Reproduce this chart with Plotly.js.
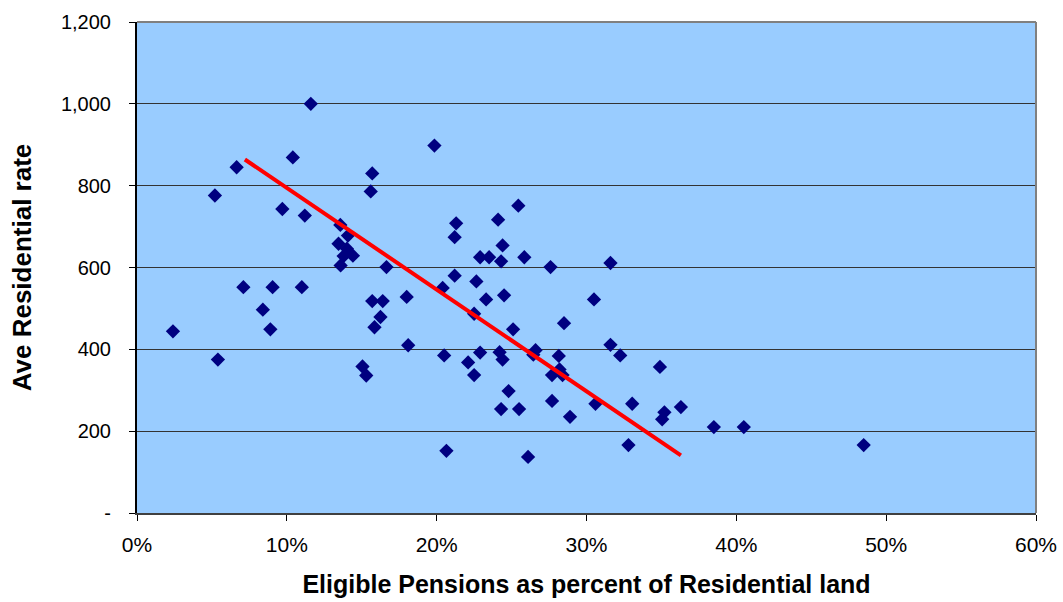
<!DOCTYPE html>
<html>
<head>
<meta charset="utf-8">
<script src="https://cdn.plot.ly/plotly-3.0.1.min.js"></script>
<style>html,body{margin:0;padding:0;background:#fff;}#chart{width:1063px;height:602px;}</style>
</head>
<body>
<div id="chart"></div>
<script>
// Eligible pensions as percent of residential land (%)
const pensionPct = [2.4, 5.2, 5.4, 6.65, 7.1, 8.4, 8.9, 9.05, 9.7, 10.4, 11.0, 11.2, 11.6,
  13.57, 14.08, 13.45, 14.01, 14.41, 13.79, 13.59,
  15.05, 15.3, 15.7, 15.6, 15.7, 16.4, 16.25, 15.85, 16.65, 18.0, 18.1, 19.85,
  20.4, 20.5, 20.65, 21.2, 21.3, 21.2, 22.1, 22.5, 22.5, 22.65, 22.9, 22.9, 23.3, 23.5,
  24.1, 24.2, 24.3, 24.3, 24.4, 24.4, 24.5, 24.8, 25.1, 25.45, 25.5, 25.85, 26.1, 26.45, 26.6,
  27.6, 27.7, 27.7, 28.15, 28.2, 28.4, 28.5, 28.9, 30.5, 30.6, 31.6, 31.6, 32.25, 32.8, 33.05,
  34.9, 35.05, 35.2, 36.3, 38.5, 40.5, 48.5];
// Average residential rate
const aveRate = [444, 776, 375, 845, 552, 497, 449, 552, 743, 869, 552, 727, 1000,
  704, 678, 658, 646, 629, 628, 605,
  358, 336, 830, 786, 518, 518, 479, 454, 601, 528, 410, 898,
  550, 385, 152, 674, 708, 580, 368, 487, 337, 566, 625, 392, 522, 625,
  717, 393, 254, 615, 654, 375, 532, 298, 449, 751, 254, 625, 137, 387, 398,
  601, 337, 274, 384, 351, 337, 464, 235, 522, 267, 611, 411, 385, 166, 267,
  357, 229, 246, 259, 210, 210, 166];
// Trend line end points
const trendX = [7.2, 36.3];
const trendY = [864, 141];
// Tick labels
const xTickVals = [0, 10, 20, 30, 40, 50, 60];
const xTickText = ['0%', '10%', '20%', '30%', '40%', '50%', '60%'];
const yTickVals = [0, 200, 400, 600, 800, 1000, 1200];
const yTickText = ['-', '200', '400', '600', '800', '1,000', '1,200'];

const font = 'Liberation Sans, Arial, sans-serif';

const traces = [
  {
    x: pensionPct, y: aveRate, type: 'scatter', mode: 'markers',
    marker: {symbol: 'diamond', size: 11, color: '#000080', line: {width: 0}},
    hoverinfo: 'x+y', showlegend: false
  },
  {
    x: trendX, y: trendY, type: 'scatter', mode: 'lines',
    line: {color: '#FF0000', width: 4}, showlegend: false, hoverinfo: 'skip'
  }
];

const layout = {
  width: 1063, height: 602,
  paper_bgcolor: '#FFFFFF',
  plot_bgcolor: '#99CCFF',
  margin: {l: 136.5, r: 26.5, t: 22, b: 89, pad: 0},
  font: {family: font, color: '#000', size: 20},
  xaxis: {
    range: [0, 60], tickvals: xTickVals, ticktext: xTickText,
    showgrid: false, zeroline: false,
    showline: true, linecolor: '#404040', linewidth: 2,
    ticks: 'outside', ticklen: 6, tickcolor: '#000', tickwidth: 1,
    ticklabelstandoff: 6,
    tickfont: {family: font, size: 21, color: '#000'},
    title: {text: '<b>Eligible Pensions as percent of Residential land</b>', font: {family: font, size: 25, color: '#000'}, standoff: 20}
  },
  yaxis: {
    range: [0, 1200], tickvals: yTickVals, ticktext: yTickText,
    showgrid: true, gridcolor: '#333333', gridwidth: 1, zeroline: false,
    showline: true, linecolor: '#000', linewidth: 2,
    ticks: 'outside', ticklen: 6, tickcolor: '#000', tickwidth: 1,
    ticklabelstandoff: 14,
    tickfont: {family: font, size: 20, color: '#000'},
    title: {text: '<b>Ave Residential rate</b>', font: {family: font, size: 26, color: '#000'}, standoff: 22}
  },
  shapes: [
    {type: 'line', xref: 'paper', yref: 'paper', x0: 1, x1: 1, y0: 0, y1: 1, line: {color: '#808080', width: 2}},
    {type: 'line', xref: 'paper', yref: 'paper', x0: 0, x1: 1, y0: 1, y1: 1, line: {color: '#808080', width: 2}}
  ]
};

Plotly.newPlot('chart', traces, layout, {displayModeBar: false, staticPlot: true});
</script>
</body>
</html>
